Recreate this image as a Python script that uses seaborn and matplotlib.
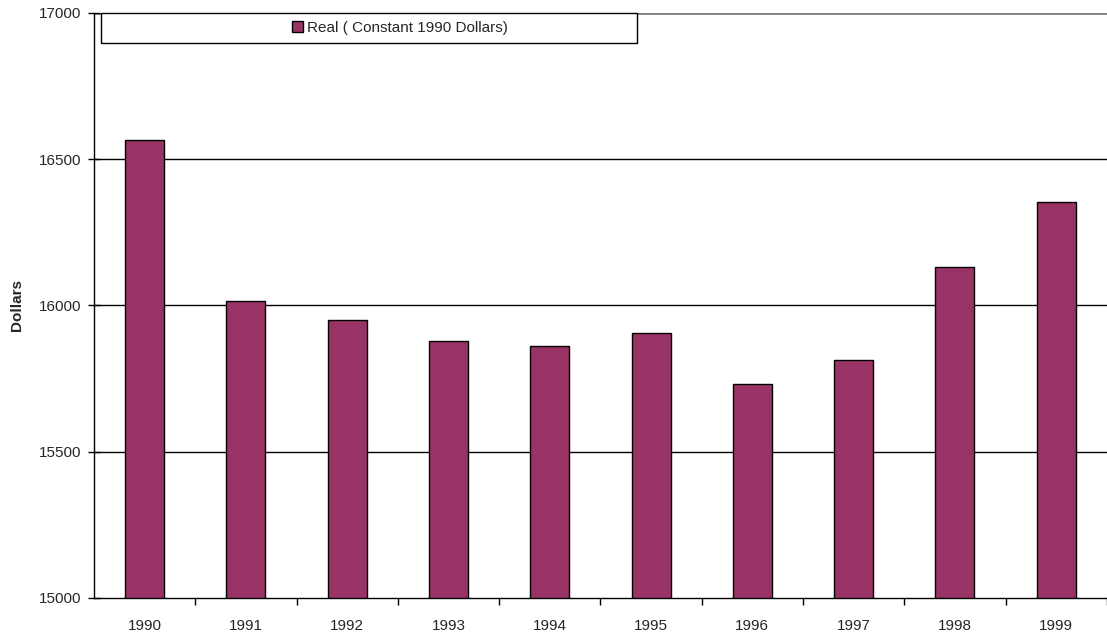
import pandas as pd
import matplotlib
matplotlib.use('Agg')
import matplotlib.pyplot as plt
from matplotlib.patches import Rectangle
import seaborn as sns

# data
years = ['1990', '1991', '1992', '1993', '1994', '1995', '1996', '1997', '1998', '1999']
real_dollars = [16565, 16015, 15950, 15877, 15860, 15906, 15732, 15812, 16133, 16355]
y_ticks = [15000, 15500, 16000, 16500, 17000]
series_name = 'Real ( Constant 1990 Dollars)'

sns.set_theme(style='white')
plt.rcParams['font.family'] = ['Liberation Sans', 'DejaVu Sans']

df = pd.DataFrame({'year': years, 'value': real_dollars, 'series': series_name})

fig = plt.figure(figsize=(11.07, 6.39), dpi=100)
ax = fig.add_axes([0.0849, 0.0642, 0.915, 0.9155])

sns.barplot(data=df, x='year', y='value', hue='series', palette=['#993366'],
            width=0.385, edgecolor='black', linewidth=1, saturation=1, ax=ax)

ax.set_ylim(15000, 17000)
ax.set_xlim(-0.5, len(years) - 0.5)
ax.set_yticks(y_ticks)
ax.set_yticklabels([str(t) for t in y_ticks], fontsize=11)
for t in y_ticks[1:-1]:
    ax.axhline(t, color='black', linewidth=1, zorder=0)
ax.axhline(y_ticks[-1], color='#808080', linewidth=2, zorder=0)

# tick marks between categories, labels at the centres
ax.set_xticks([i + 0.5 for i in range(len(years))], minor=False)
ax.set_xticklabels([])
ax.set_xticks(range(len(years)), minor=True)
ax.set_xticklabels(years, minor=True, fontsize=11)
ax.tick_params(axis='x', which='major', direction='out', length=5, width=1, color='black', bottom=True)
ax.tick_params(axis='x', which='minor', length=0, pad=15)
ax.tick_params(axis='y', direction='inout', length=8, width=1, color='black', left=True, pad=5)

for side in ['top', 'right']:
    ax.spines[side].set_visible(False)
for side in ['left', 'bottom']:
    ax.spines[side].set_color('black')
    ax.spines[side].set_linewidth(1)

ax.set_xlabel('')
ax.set_ylabel('Dollars', fontsize=11, fontweight='bold')
ax.yaxis.set_label_coords(-0.076, 0.5)
ax.yaxis.label.set_va('center')

# legend box frame
ax.add_patch(Rectangle((0.0069, 0.9487), 0.529, 0.0513, transform=ax.transAxes,
                       facecolor='white', edgecolor='black', linewidth=1,
                       clip_on=False, zorder=5))
leg = ax.legend(loc='center left', bbox_to_anchor=(0.1955, 0.9744), frameon=False,
                fontsize=11, handlelength=0.7, handleheight=0.7, handletextpad=0.25,
                borderpad=0, borderaxespad=0)
leg.set_zorder(6)
for h in leg.legend_handles:
    h.set_edgecolor('black')

fig.savefig('out.png', dpi=100)
